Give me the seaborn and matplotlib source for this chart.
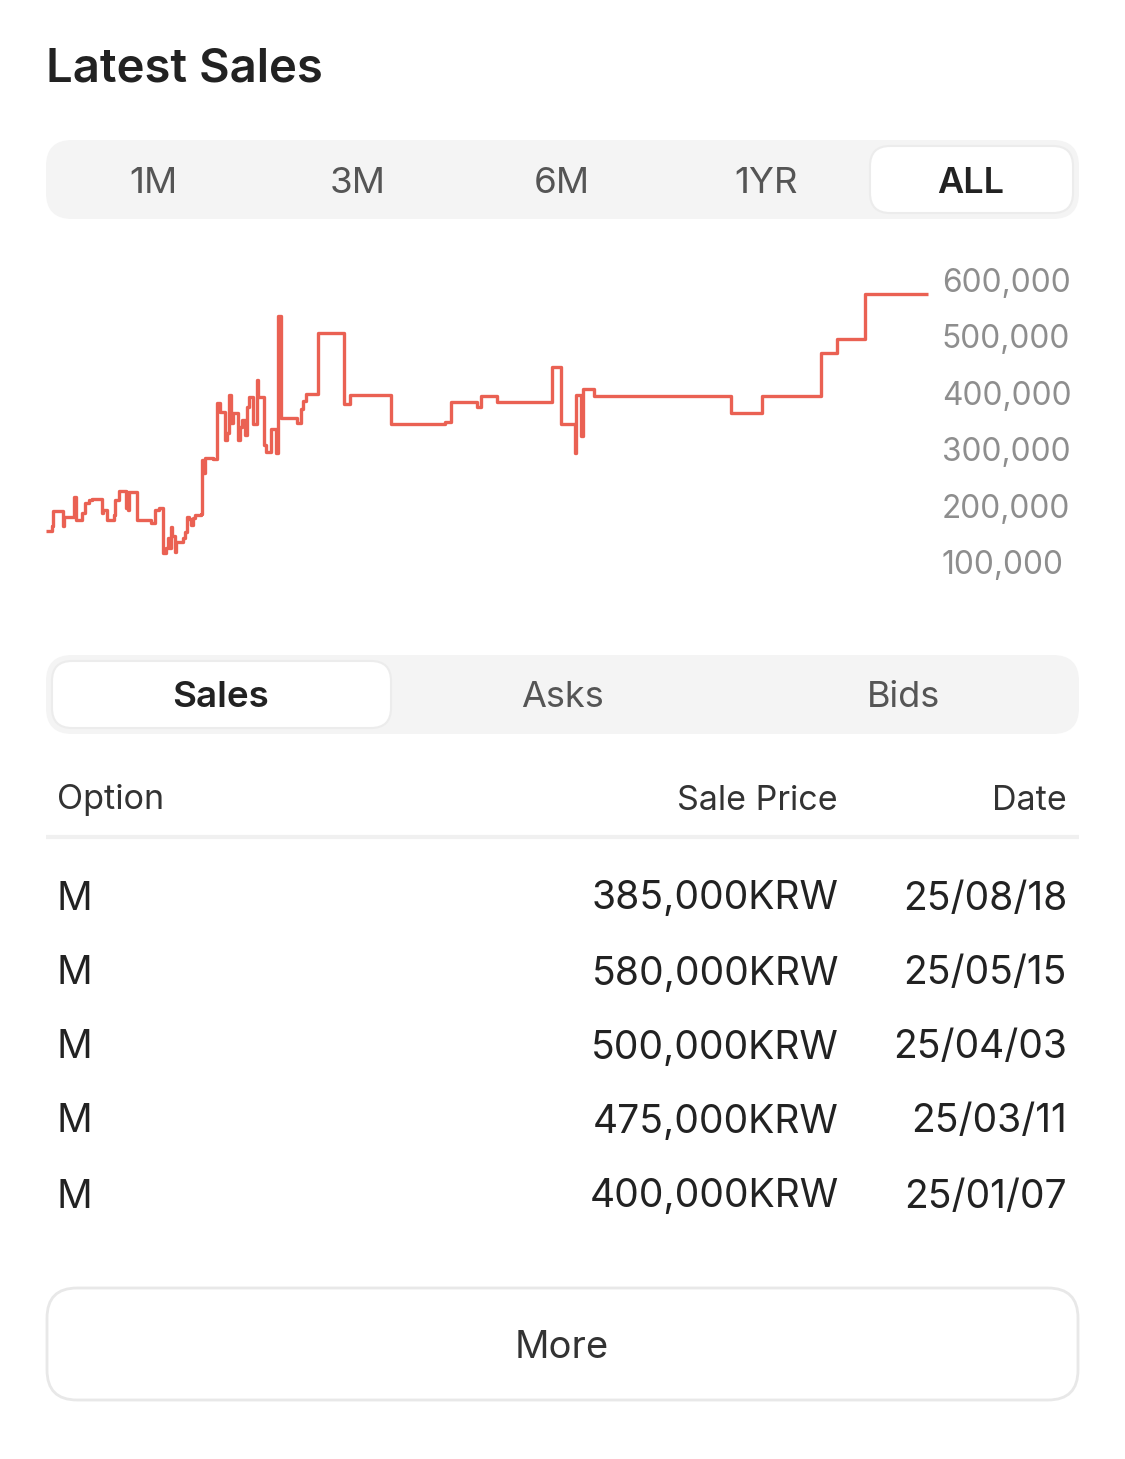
import pandas as pd
import seaborn as sns
import matplotlib.pyplot as plt
from matplotlib.patches import FancyBboxPatch

#------------------------------------------------
l_day=[0,5.7,7.3,16.7,18.3,28.3,29.7,36.3,39,43,45.7,56.3,57.3,60.7,68,69.3,73.3,79.7,80.7,82,83,90.7,
       105,109,113,117.3,120,122,123.3,124.7,126.3,129,130.3,137.3,139.3,140.7,143,144.7,146.7,149,155.3,
       156.3,157.3,158.7,166.7,170.7,171.3,174,179,180.7,182.7,185.3,186.7,192.3,194,196.3,199,200.7,202.7,
       206.7,210.7,212.3,218,219.7,224.7,230,232,234.7,251.3,254.7,257.3,260,272,298,304,344.7,399,404.7,
       430.7,435.3,451.3,505.7,514.7,529,530.3,534.7,537.3,548,685,716,775,791.3,819,882]
l_price=[155,163,191,164,180,216,174,187,205,210,212,186,193,174,183,210,226,196,225,192,225,174,
         170,192,196,116,125,143,125,162,146,118,135,143,153,180,177,166,178,183,185,
         281,258,285,283,288,382,366,316,329,396,346,364,316,339,352,325,375,393,
         345,423,393,307,295,336,294,536,356,346,371,385,398,506,380,396,345,349,383,
         375,395,383,446,345,294,396,324,406,395,365,394,470,495,576,576]
l_tick=[100000,200000,300000,400000,500000,600000]

l_range=['1M','3M','6M','1YR','ALL']
l_tab=['Sales','Asks','Bids']
l_col=['Option','Sale Price','Date']
l_option=['M','M','M','M','M']
l_sale=['385,000KRW','580,000KRW','500,000KRW','475,000KRW','400,000KRW']
l_date=['25/08/18','25/05/15','25/04/03','25/03/11','25/01/07']

#########################################################
W,H=1125,1459
sns.set_theme(style='white')
plt.rcParams['font.family']=['Inter','DejaVu Sans']

df=pd.DataFrame({'day':l_day,'price':[i*1000 for i in l_price]})

fig=plt.figure(figsize=(W/100,H/100),dpi=100)
fig.patch.set_facecolor('white')

#ui layer, in image pixels
bg=fig.add_axes([0,0,1,1])
bg.set_xlim(0,W)
bg.set_ylim(H,0)
bg.axis('off')

def box(x0,y0,x1,y1,r,fc,ec='none',lw=0):
    p=FancyBboxPatch((x0+r,y0+r),x1-x0-2*r,y1-y0-2*r,boxstyle=f'round,pad={r},rounding_size={r}',
                     fc=fc,ec=ec,lw=lw)
    bg.add_patch(p)

def txt(x,y,s,size,color='#222222',ha='center',weight='normal'):
    bg.text(x,y,s,fontsize=size,color=color,ha=ha,va='center_baseline',fontweight=weight)

txt(46,64,'Latest Sales',34,'#222222','left','semibold')

#range selector
box(46,140,1079,219,26,'#f4f4f4')
box(870,146,1073,213,20,'white','#ececec',1.5)
for x,s in zip([153,358,562,766,971],l_range):
    if s=='ALL':
        txt(x,180,s,26,'#222222','center','semibold')
    else:
        txt(x,180,s,26.5,'#555555')

#tab selector
box(46,655,1079,734,26,'#f4f4f4')
box(52,661,391,728,20,'white','#ececec',1.5)
for x,s in zip([221,562,903],l_tab):
    if s=='Sales':
        txt(x,694,s,26.5,'#222222','center','semibold')
    else:
        txt(x,694,s,26,'#555555')

#table
txt(57,797,l_col[0],24.6,'#333333','left')
txt(838,798,l_col[1],24.5,'#333333','right')
txt(1067,798,l_col[2],24.5,'#333333','right')
bg.plot([46,1079],[837,837],color='#f0f0f0',lw=3,solid_capstyle='butt')
for y,a,b,c in zip([895,970,1044,1118,1193],l_option,l_sale,l_date):
    txt(56,y,a,28.5,'#222222','left')
    txt(839,y,b,28.1,'#222222','right')
    txt(1067,y,c,28.1,'#222222','right')

#more button
box(47,1288,1078,1400,30,'white','#e8e8e8',2)
txt(562,1344,'More',27.5,'#333333')

#chart
ax=fig.add_axes([46/W,1-562/H,(928-46)/W,(562-280)/H])
ax.patch.set_alpha(0)
sns.lineplot(data=df,x='day',y='price',drawstyle='steps-post',estimator=None,sort=False,
             color='#ea6153',linewidth=2.4,ax=ax,clip_on=False,solid_capstyle='butt')
ax.set_xlim(0,882)
ax.set_ylim(100000,600000)
ax.set_xticks([])
ax.set_yticks(l_tick)
ax.set_yticklabels([f'{i:,}' for i in l_tick],fontsize=22.8,color='#8e8e8e',ha='left')
ax.yaxis.tick_right()
ax.tick_params(axis='y',length=0,pad=10)
ax.set_xlabel('')
ax.set_ylabel('')
sns.despine(ax=ax,left=True,bottom=True,right=True,top=True)

plt.savefig('out.png',dpi=100)
plt.close()
